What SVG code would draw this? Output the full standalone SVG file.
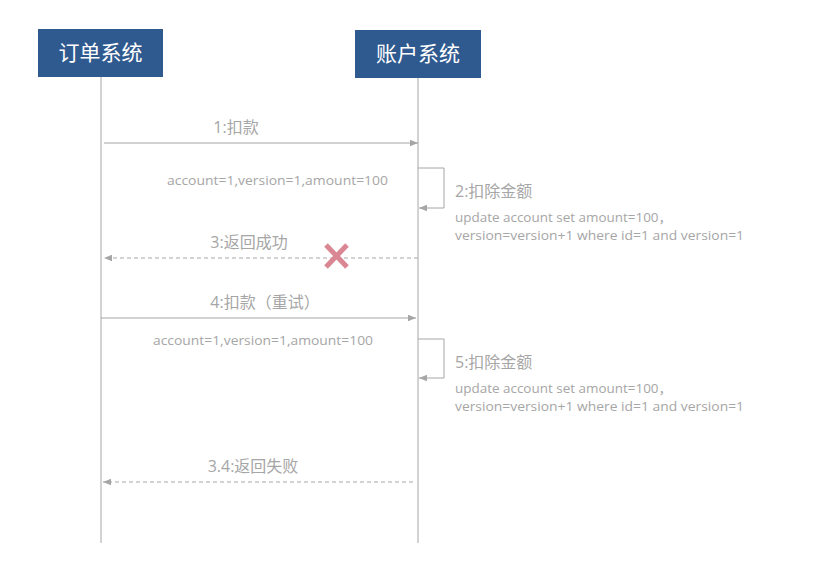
<svg xmlns="http://www.w3.org/2000/svg" width="840" height="562" viewBox="0 0 840 562">
<defs>
<style>
.hdr{fill:#2F5A8F}
.ht{fill:#fff;font-family:"Noto Sans CJK SC","Microsoft YaHei",sans-serif;font-size:21px;text-anchor:middle}
.life{stroke:#A6A6A6;stroke-width:1;fill:none}
.msg{stroke:#A6A6A6;stroke-width:1;fill:none}
.dash{stroke-dasharray:4,3}
.lbl{fill:#A6A6A6;font-family:"Open Sans","Noto Sans CJK SC",sans-serif;font-size:16px}
.sm{fill:#A6A6A6;font-family:"Open Sans","Noto Sans CJK SC",sans-serif;font-size:13px}
</style>
<marker id="ah" viewBox="0 0 10 10" refX="10" refY="5" markerWidth="8" markerHeight="8" markerUnits="userSpaceOnUse" orient="auto">
<path d="M0,1 L10,5 L0,9 z" fill="#A6A6A6"/>
</marker>
</defs>
<rect width="840" height="562" fill="#fff"/>
<g id="order-system">
<rect class="hdr" x="38" y="29" width="125" height="48"/>
<text class="ht" x="100.5" y="60">订单系统</text>
<line class="life" x1="101" y1="77" x2="101" y2="543"/>
</g>
<g id="account-system">
<rect class="hdr" x="355" y="30" width="126" height="48"/>
<text class="ht" x="418" y="61">账户系统</text>
<line class="life" x1="418" y1="78" x2="418" y2="543"/>
</g>
<g id="connectors">
<line class="msg" x1="104" y1="143" x2="418" y2="143" marker-end="url(#ah)"/>
<polyline class="msg" points="418,168 444,168 444,208 419,208" marker-end="url(#ah)"/>
<line class="msg dash" x1="418" y1="258" x2="104" y2="258" marker-end="url(#ah)"/>
<line class="msg" x1="101" y1="318" x2="416" y2="318" marker-end="url(#ah)"/>
<polyline class="msg" points="418,339 444,339 444,378 419,378" marker-end="url(#ah)"/>
<line class="msg dash" x1="413" y1="482" x2="103" y2="482" marker-end="url(#ah)"/>
</g>
<g id="labels">
<text class="lbl" x="236" y="133" text-anchor="middle">1:扣款</text>
<text class="sm" x="167" y="185" textLength="221" lengthAdjust="spacingAndGlyphs">account=1,version=1,amount=100</text>
<text class="lbl" x="455" y="197">2:扣除金额</text>
<text class="sm" x="455" y="222" textLength="217" lengthAdjust="spacingAndGlyphs">update account set amount=100，</text>
<text class="sm" x="455" y="240" textLength="289" lengthAdjust="spacingAndGlyphs">version=version+1 where id=1 and version=1</text>
<text class="lbl" x="249" y="248" text-anchor="middle">3:返回成功</text>
<text class="lbl" x="265" y="308" text-anchor="middle">4:扣款（重试）</text>
<text class="sm" x="153" y="345" textLength="220" lengthAdjust="spacingAndGlyphs">account=1,version=1,amount=100</text>
<text class="lbl" x="455" y="368">5:扣除金额</text>
<text class="sm" x="455" y="393" textLength="217" lengthAdjust="spacingAndGlyphs">update account set amount=100，</text>
<text class="sm" x="455" y="411" textLength="289" lengthAdjust="spacingAndGlyphs">version=version+1 where id=1 and version=1</text>
<text class="lbl" x="253" y="472" text-anchor="middle">3.4:返回失败</text>
</g>
<g id="fail-mark" stroke="#DA8794" stroke-width="5">
<line x1="326" y1="245" x2="347" y2="267"/>
<line x1="347" y1="245" x2="326" y2="267"/>
</g>
</svg>
